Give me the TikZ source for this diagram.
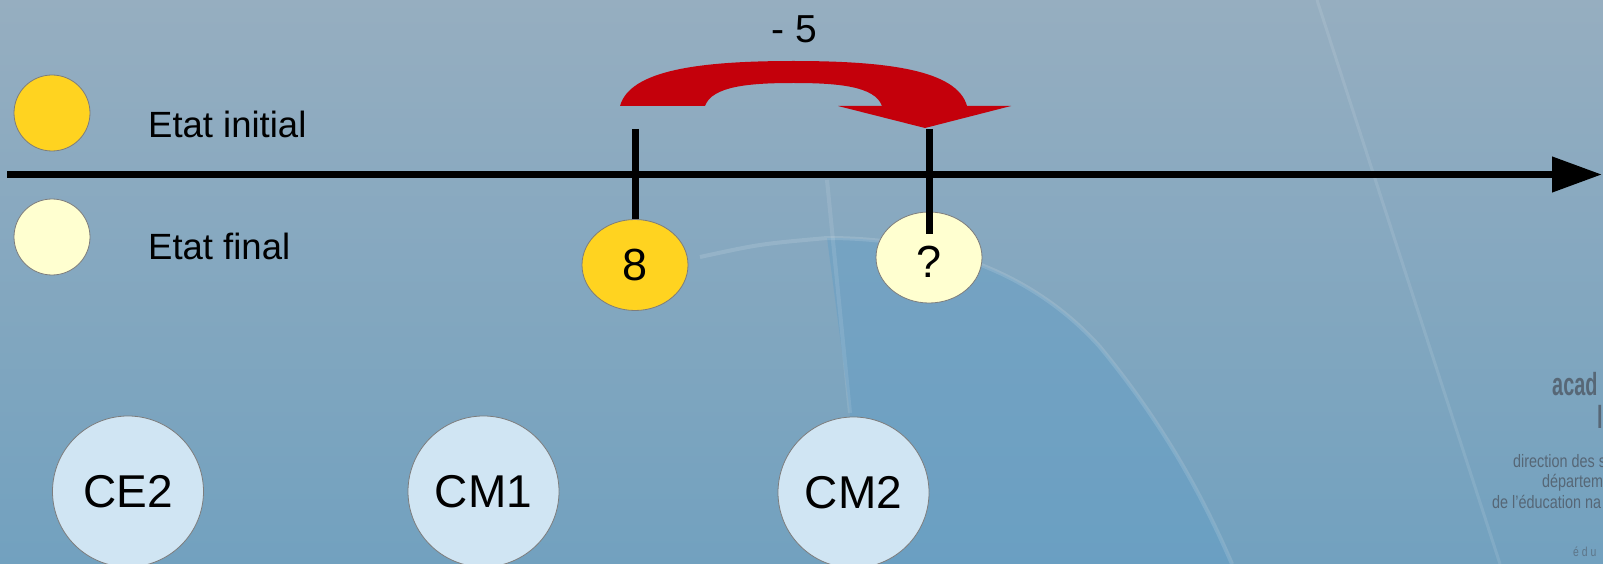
\documentclass[tikz,border=0pt]{standalone}
\usepackage{fontspec}
\setmainfont{Liberation Sans}
\usetikzlibrary{arrows.meta,shapes.geometric}
\definecolor{bgtop}{RGB}{150,174,192}
\definecolor{bgbot}{RGB}{114,161,191}
\definecolor{bgdeep}{RGB}{98,158,198}
\definecolor{initcol}{RGB}{255,211,32}
\definecolor{finalcol}{RGB}{255,255,208}
\definecolor{levelcol}{RGB}{208,229,243}
\definecolor{jumpred}{RGB}{196,0,11}
\definecolor{logocol}{RGB}{78,88,100}
\definecolor{rimgray}{RGB}{125,125,125}
\newcommand{\myfs}[1]{\fontsize{#1}{#1}\selectfont}
\tikzset{
  legdot/.style={circle, draw=rimgray, line width=0.8pt, minimum size=76pt, inner sep=0pt},
  stateov/.style={ellipse, draw=rimgray, line width=0.8pt, minimum width=106pt, minimum height=91pt, inner sep=0pt, font=\myfs{45}},
  levelbub/.style={circle, draw=rimgray, line width=0.8pt, fill=levelcol, minimum size=151pt, inner sep=0pt, font=\myfs{46}},
  legtext/.style={anchor=base west, inner sep=0pt, font=\myfs{36.5}},
  markline/.style={line width=7pt},
  logotext/.style={anchor=base west, inner sep=0pt, text=logocol, opacity=0.8},
  softline/.style={white, opacity=0.13, line width=4pt},
}
\begin{document}
\begin{tikzpicture}[x=1pt,y=-1pt]
\useasboundingbox (0,0) rectangle (1603,564);
\begin{scope}
  \clip (0,0) rectangle (1603,564);
  \shade[top color=bgtop, bottom color=bgbot] (0,0) rectangle (1603,564);
  \fill[bgdeep, opacity=0.45] (827,238) .. controls (950,238) and (1040,280) .. (1100,347)
      .. controls (1160,420) and (1200,490) .. (1232,564) -- (858,564) -- (850,413) -- cycle;
  \draw[softline] (700,257) .. controls (760,244) .. (827,238)
      .. controls (950,238) and (1040,280) .. (1100,347)
      .. controls (1160,420) and (1200,490) .. (1232,564);
  \draw[softline, opacity=0.1] (827,180) -- (850,413);
  \draw[softline, opacity=0.1, line width=3pt] (1317,0) -- (1500,564);
  % logo fragments
  \node[logotext, font=\myfs{32}\bfseries] (logoA) at (1552,395) {\scalebox{0.62}[1]{acad}};
  \node[logotext, font=\myfs{32}\bfseries] (logoB) at (1597,428) {\scalebox{0.62}[1]{l}};
  \node[logotext, font=\myfs{18}] (logoC) at (1513,467) {\scalebox{0.8}[1]{direction des s}};
  \node[logotext, font=\myfs{18}] (logoD) at (1542,487) {\scalebox{0.8}[1]{départem}};
  \node[logotext, font=\myfs{18}] (logoE) at (1492,508) {\scalebox{0.8}[1]{de l'éducation na}};
  \node[logotext, font=\myfs{13}, opacity=0.6] (logoF) at (1573,556) {\scalebox{0.8}[1]{é d u}};
\end{scope}

% legend
\node[legdot, fill=initcol] (legI) at (52,113) {};
\node[legdot, fill=finalcol] (legF) at (52,237) {};
\node[legtext] (txtI) at (148,138) {Etat initial};
\node[legtext] (txtF) at (148,259) {Etat final};

% axis
\coordinate (axL) at (7,174.5);
\coordinate (axR) at (1602,174.5);
\draw[line width=7.5pt, -{Triangle[length=50pt,width=34pt]}] (axL) -- (axR);

% states
\node[stateov, fill=initcol] (s8) at (635,265) {8};
\node[stateov, fill=finalcol] (sq) at (929,257.5) {\raisebox{-19.5pt}[0pt][0pt]{?}};
\coordinate (m1top) at (635,129);
\coordinate (m2top) at (929,129);
\coordinate (m2bot) at (929,234);
\draw[markline] (m1top) -- (s8.north);
\draw[markline] (m2top) -- (m2bot);

% jump arrow
\fill[jumpred] (620,106) .. controls (630,70) and (700,61) .. (793.5,61)
   .. controls (887,61) and (957,70) .. (967,106)
   -- (1011,106) -- (925,128) -- (838,106) -- (882,106)
   .. controls (875,86) and (837,83) .. (793.5,83)
   .. controls (750,83) and (712,86) .. (705,106) -- cycle;
\node[anchor=base, inner sep=0pt, font=\myfs{39}] (jump) at (794,43) {- 5};

% levels
\node[levelbub] (ce2) at (128,491.5) {CE2};
\node[levelbub] (cm1) at (483.5,491.5) {CM1};
\node[levelbub] (cm2) at (853.5,492.5) {CM2};
\end{tikzpicture}
\end{document}
